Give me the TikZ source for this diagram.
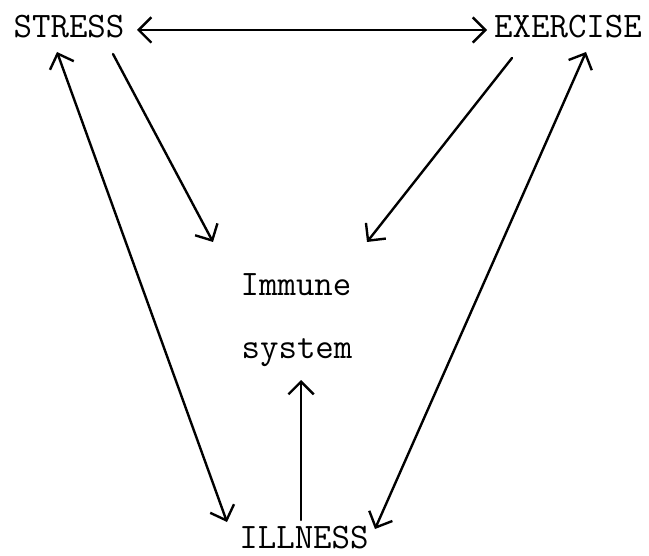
\documentclass[tikz,border=0pt]{standalone}
\usepackage{xcolor}
\usepackage{tikz}
\usetikzlibrary{arrows.meta}
\usetikzlibrary{calc}

\tikzset{
  word/.style={anchor=base, inner sep=0pt, font=\fontsize{25.5}{30}\selectfont\ttfamily},
  link/.style={line width=1.7pt, line cap=round, line join=round,
    arrows={-Straight Barb[length=9pt, width=18pt, line width=1.7pt]}},
  twoway/.style={link, arrows={Straight Barb[length=9pt, width=18pt, line width=1.7pt]-Straight Barb[length=9pt, width=18pt, line width=1.7pt]}}
}

\begin{document}
\begin{tikzpicture}[x=0.025cm, y=-0.025cm]
                \useasboundingbox (0,0) rectangle (649,556);
                % Words
                \node[word] (stress) at (69,38) {STRESS};
                \node[word] (exercise) at (568,38) {EXERCISE};
                \node[word] (immune) at (296,295) {Immune};
                \node[word] (system) at (297,358) {system};
                \node[word] (illness) at (304,548) {ILLNESS};
                % Top
                \draw[twoway] ($(stress.base)+(68,-8)$) -- ($(exercise.base)+(-81,-8)$);
                % Into the immune system
                \draw[link] ($(stress.base)+(44,16)$) -- ($(immune.base)+(-83,-53)$);
                \draw[link] ($(exercise.base)+(-56,20)$) -- ($(immune.base)+(71,-53)$);
                \draw[link] ($(illness.base)+(-3,-28)$) -- ($(system.base)+(4,22)$);
                % Long sides
                \draw[twoway] ($(stress.base)+(-12,14)$) -- ($(illness.base)+(-77,-26)$);
                \draw[twoway] ($(exercise.base)+(18,14)$) -- ($(illness.base)+(71,-19)$);
            \end{tikzpicture}
\end{document}
